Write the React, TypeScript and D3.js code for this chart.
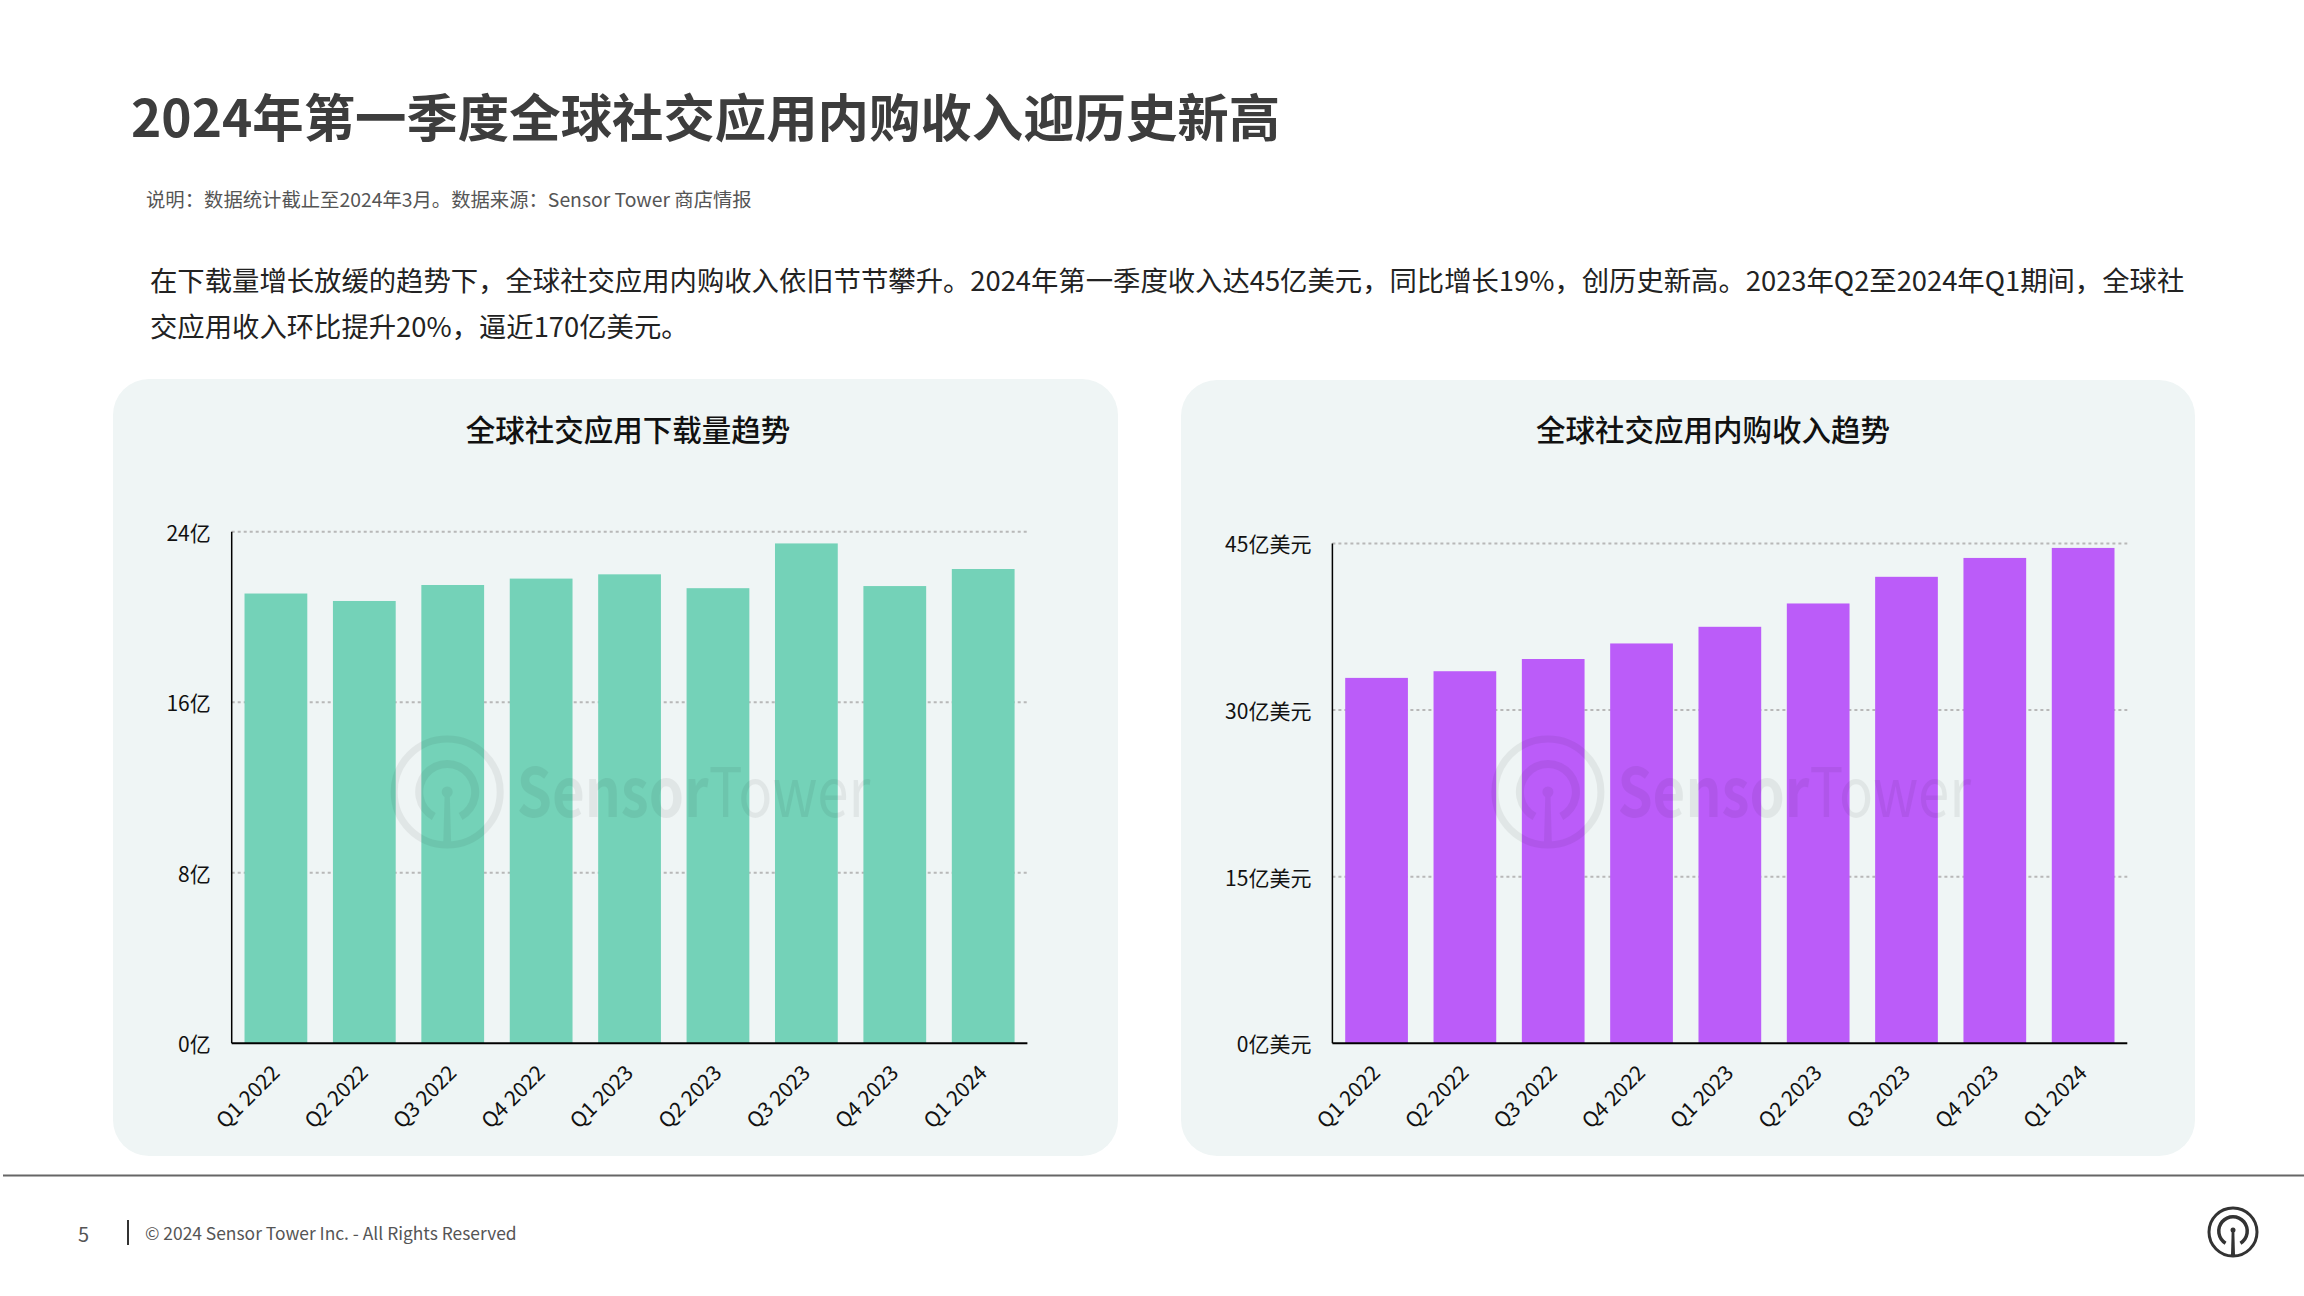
import React from "react";
import * as d3 from "d3";

const quarters = ["Q1 2022", "Q2 2022", "Q3 2022", "Q4 2022", "Q1 2023", "Q2 2023", "Q3 2023", "Q4 2023", "Q1 2024"];
const downloads = [21.1, 20.75, 21.5, 21.8, 22.0, 21.35, 23.45, 21.45, 22.25];
const revenue = [32.9, 33.5, 34.6, 36.0, 37.5, 39.6, 42.0, 43.7, 44.6];
const downloadTicks = [0, 8, 16, 24];
const revenueTicks = [0, 15, 30, 45];

const FONT = "'Noto Sans CJK SC', 'Noto Sans', sans-serif";

function Watermark({ x0 }: { x0: number }) {
  const cx = x0 + 215.5;
  const cy = 792;
  const inner = d3.arc()({ innerRadius: 24, outerRadius: 32, startAngle: -Math.PI + 0.5, endAngle: Math.PI - 0.5 } as any) as string;
  return (
    <g fill="#000" opacity={0.055}>
      <circle cx={cx} cy={cy} r={53} fill="none" stroke="#000" strokeWidth={7} />
      <path d={inner} transform={`translate(${cx},${cy})`} />
      <circle cx={cx} cy={cy} r={5.5} />
      <path d={`M${cx - 2.5},${cy} L${cx + 2.5},${cy} L${cx + 4},${cy + 54} L${cx - 4},${cy + 54} Z`} />
      <text transform={`translate(${x0 + 285},817) scale(0.83,1)`} fontFamily={FONT} fontSize={68}>
        <tspan fontWeight={700}>Sensor</tspan>
        <tspan fontWeight={400}>Tower</tspan>
      </text>
    </g>
  );
}

function BarChart({
  x0, x1, yTop, values, ticks, max, color, unit, title, titleX,
}: {
  x0: number; x1: number; yTop: number; values: number[]; ticks: number[]; max: number;
  color: string; unit: string; title: string; titleX: number;
}) {
  const yBottom = 1043.3;
  const x = d3.scaleBand<string>().domain(quarters).range([x0, x1]).paddingInner(0.29).paddingOuter(0.145);
  const y = d3.scaleLinear().domain([0, max]).range([yBottom, yTop]);
  return (
    <g>
      <text x={titleX} y={441} textAnchor="middle" fontFamily={FONT} fontSize={29.5} fontWeight={500} fill="#111">{title}</text>
      {ticks.map((t) => (
        <g key={t}>
          {t > 0 && (
            <line x1={x0} x2={x1} y1={y(t)} y2={y(t)} stroke="#b8b8b8" strokeWidth={2} strokeDasharray="3 3" />
          )}
          <text x={x0 - 21} y={y(t)} dy="0.42em" textAnchor="end" fontFamily={FONT} fontSize={21} fill="#111">
            {`${t}${unit}`}
          </text>
        </g>
      ))}
      {values.map((v, i) => (
        <rect key={quarters[i]} x={x(quarters[i])} y={y(v)} width={x.bandwidth()} height={yBottom - y(v)} fill={color} />
      ))}
      <Watermark x0={x0} />
      <line x1={x0} x2={x0} y1={yTop} y2={yBottom} stroke="#000" strokeWidth={1.5} />
      <line x1={x0} x2={x1} y1={yBottom} y2={yBottom} stroke="#000" strokeWidth={2} />
      {quarters.map((q) => {
        const cx = (x(q) as number) + x.bandwidth() / 2;
        return (
          <text key={q} transform={`translate(${cx + 5},${yBottom + 31}) rotate(-45)`} textAnchor="end" fontFamily={FONT} fontSize={21} fill="#111">
            {q}
          </text>
        );
      })}
    </g>
  );
}

function FooterLogo() {
  const cx = 2233;
  const cy = 1232;
  const inner = d3.arc()({ innerRadius: 12.5, outerRadius: 16, startAngle: -Math.PI + 0.55, endAngle: Math.PI - 0.55 } as any) as string;
  return (
    <g fill="#333">
      <circle cx={cx} cy={cy} r={24} fill="none" stroke="#333" strokeWidth={3} />
      <path d={inner} transform={`translate(${cx},${cy - 1})`} />
      <circle cx={cx} cy={cy - 2} r={2.5} />
      <path d={`M${cx - 1.3},${cy - 2} L${cx + 1.3},${cy - 2} L${cx + 2},${cy + 23} L${cx - 2},${cy + 23} Z`} />
    </g>
  );
}

export default function App() {
  return (
    <svg width={2304} height={1296} style={{ position: "absolute", left: 0, top: 0, background: "#fff" }}>
      <rect width={2304} height={1296} fill="#fff" />
      <text x={131} y={137} fontFamily={FONT} fontWeight={700} fontSize={51.4} fill="#3d3d3d">
        2024年第一季度全球社交应用内购收入迎历史新高
      </text>
      <text x={146} y={207} fontFamily={FONT} fontSize={19.35} fill="#555">
        说明：数据统计截止至2024年3月。数据来源：Sensor Tower 商店情报
      </text>
      <text x={150} y={291} fontFamily={FONT} fontSize={27.35} fill="#222">
        在下载量增长放缓的趋势下，全球社交应用内购收入依旧节节攀升。2024年第一季度收入达45亿美元，同比增长19%，创历史新高。2023年Q2至2024年Q1期间，全球社
      </text>
      <text x={150} y={337} fontFamily={FONT} fontSize={27.35} fill="#222">
        交应用收入环比提升20%，逼近170亿美元。
      </text>

      <rect x={113} y={379} width={1005} height={777} rx={36} fill="#eff5f5" />
      <rect x={1181} y={380} width={1014} height={776} rx={36} fill="#eff5f5" />

      <BarChart x0={231.7} x1={1027.4} yTop={531.7} values={downloads} ticks={downloadTicks} max={24}
        color="#74d2b8" unit="亿" title="全球社交应用下载量趋势" titleX={628} />
      <BarChart x0={1332.4} x1={2127.3} yTop={543.5} values={revenue} ticks={revenueTicks} max={45}
        color="#bb5cf9" unit="亿美元" title="全球社交应用内购收入趋势" titleX={1713} />

      <line x1={3} x2={2304} y1={1175.5} y2={1175.5} stroke="#666" strokeWidth={2} />
      <text x={78} y={1242} fontFamily={FONT} fontSize={20} fill="#555">5</text>
      <line x1={128} x2={128} y1={1220} y2={1245} stroke="#333" strokeWidth={2} />
      <text x={145} y={1240} fontFamily={FONT} fontSize={17.4} fill="#555">© 2024 Sensor Tower Inc. - All Rights Reserved</text>
      <FooterLogo />
    </svg>
  );
}
